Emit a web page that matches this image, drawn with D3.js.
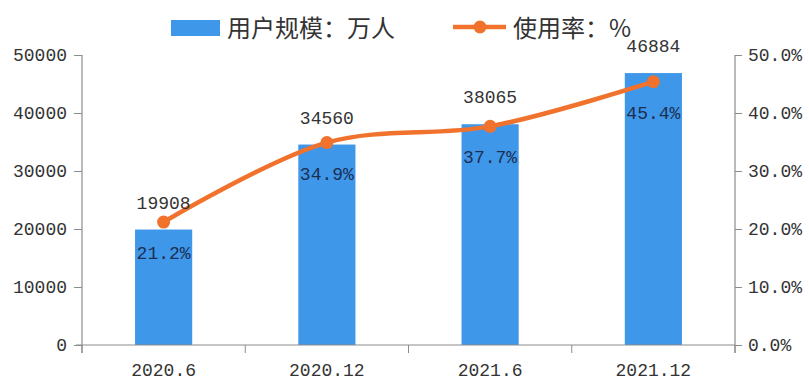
<!DOCTYPE html>
<html>
<head>
<meta charset="utf-8">
<script src="https://cdn.jsdelivr.net/npm/d3@7"></script>
<style>
  html, body { margin: 0; padding: 0; background: #fff; }
  svg { display: block; }
</style>
</head>
<body>
<svg id="chart" width="809" height="391"></svg>
<script>
const categories = ["2020.6", "2020.12", "2021.6", "2021.12"];
const userScale = [19908, 34560, 38065, 46884];
const usageRate = [0.212, 0.349, 0.377, 0.454];
const leftTicks = [0, 10000, 20000, 30000, 40000, 50000];
const rightTicks = [0, 0.1, 0.2, 0.3, 0.4, 0.5];
const legendLabels = ["用户规模：万人", "使用率：%"];

(function () {
const barColor = "#3f97ea";
const lineColor = "#f0722c";
const axisColor = "#8c8c8c";
const numFont = "'Liberation Mono', 'DejaVu Sans Mono', monospace";
const cjkFont = "'Noto Sans CJK SC', 'Noto Sans', sans-serif";

const svg = d3.select("#chart");
const pLeft = 82, pRight = 735, pTop = 55, pBottom = 345;

const x = d3.scaleBand().domain(categories).range([pLeft, pRight]).paddingInner(0).paddingOuter(0);
const y = d3.scaleLinear().domain([0, 50000]).range([pBottom, pTop]);
const y2 = d3.scaleLinear().domain([0, 0.5]).range([pBottom, pTop]);

const barW = x.bandwidth() * 0.35;
const cx = d => x(d) + x.bandwidth() / 2;

// Bars
svg.append("g").selectAll("rect").data(categories).join("rect")
  .attr("x", (d) => cx(d) - barW / 2)
  .attr("y", (d, i) => y(userScale[i]))
  .attr("width", barW)
  .attr("height", (d, i) => pBottom - y(userScale[i]))
  .attr("fill", barColor);

const gL = svg.append("g").attr("transform", `translate(${pLeft},0)`)
  .call(d3.axisLeft(y).tickValues(leftTicks).tickFormat(d3.format("d")).tickSize(8).tickPadding(7).tickSizeOuter(0));
const gR = svg.append("g").attr("transform", `translate(${pRight},0)`)
  .call(d3.axisRight(y2).tickValues(rightTicks).tickFormat(d3.format(".1%")).tickSize(7).tickPadding(6).tickSizeOuter(0));
const gB = svg.append("g").attr("transform", `translate(0,${pBottom})`)
  .call(d3.axisBottom(x).tickSize(0).tickPadding(18).tickSizeOuter(0));
const boundaries = categories.map(c => x(c)).concat([pRight]);
gB.selectAll(".bound").data(boundaries).join("line")
  .attr("class", "bound")
  .attr("x1", d => d).attr("x2", d => d)
  .attr("y1", 0).attr("y2", 8)
  .attr("stroke", axisColor);

[gL, gR, gB].forEach(g => {
  g.selectAll(".domain").attr("stroke", axisColor).attr("stroke-width", 1.2);
  g.selectAll(".tick line").attr("stroke", axisColor);
  g.selectAll("text").attr("fill", "#333").style("font-family", numFont).style("font-size", "18px");
});
gL.select(".domain").attr("d", `M0,${pTop}V${pBottom + 8}`);
gR.select(".domain").attr("d", `M0,${pTop}V${pBottom + 8}`);
gB.select(".domain").attr("d", `M${pLeft - 6},0H${pRight}`);

// Line
const pts = categories.map((c, i) => [cx(c), y2(usageRate[i])]);
svg.append("path")
  .attr("d", d3.line().curve(d3.curveCatmullRom.alpha(0.5))(pts))
  .attr("fill", "none")
  .attr("stroke", lineColor)
  .attr("stroke-width", 4.5)
  .attr("stroke-linecap", "round");
svg.append("g").selectAll("circle").data(pts).join("circle")
  .attr("cx", d => d[0]).attr("cy", d => d[1]).attr("r", 6.5)
  .attr("fill", lineColor);

svg.append("g").selectAll("text").data(categories).join("text")
  .attr("x", d => cx(d))
  .attr("y", (d, i) => y(userScale[i]) - 26)
  .attr("text-anchor", "middle")
  .attr("dominant-baseline", "central")
  .attr("fill", "#333")
  .style("font-family", numFont).style("font-size", "18px")
  .text((d, i) => userScale[i]);

svg.append("g").selectAll("text").data(categories).join("text")
  .attr("x", d => cx(d))
  .attr("y", (d, i) => y2(usageRate[i]) + 32)
  .attr("text-anchor", "middle")
  .attr("dominant-baseline", "central")
  .attr("fill", "#1c2f52")
  .style("font-family", numFont).style("font-size", "18px")
  .text((d, i) => d3.format(".1%")(usageRate[i]));

// Legend
const lg = svg.append("g");
lg.append("rect").attr("x", 171).attr("y", 20).attr("width", 49).attr("height", 16).attr("fill", barColor);
lg.append("text").attr("x", 227).attr("y", 26).attr("dominant-baseline", "central")
  .attr("fill", "#333").style("font-family", cjkFont).style("font-size", "24px")
  .text(legendLabels[0]);
lg.append("line").attr("x1", 453).attr("x2", 506).attr("y1", 27).attr("y2", 27)
  .attr("stroke", lineColor).attr("stroke-width", 4.5);
lg.append("circle").attr("cx", 480).attr("cy", 27).attr("r", 6.5).attr("fill", lineColor);
lg.append("text").attr("x", 513).attr("y", 26).attr("dominant-baseline", "central")
  .attr("fill", "#333").style("font-family", cjkFont).style("font-size", "24px")
  .text(legendLabels[1]);
})();
</script>
</body>
</html>
